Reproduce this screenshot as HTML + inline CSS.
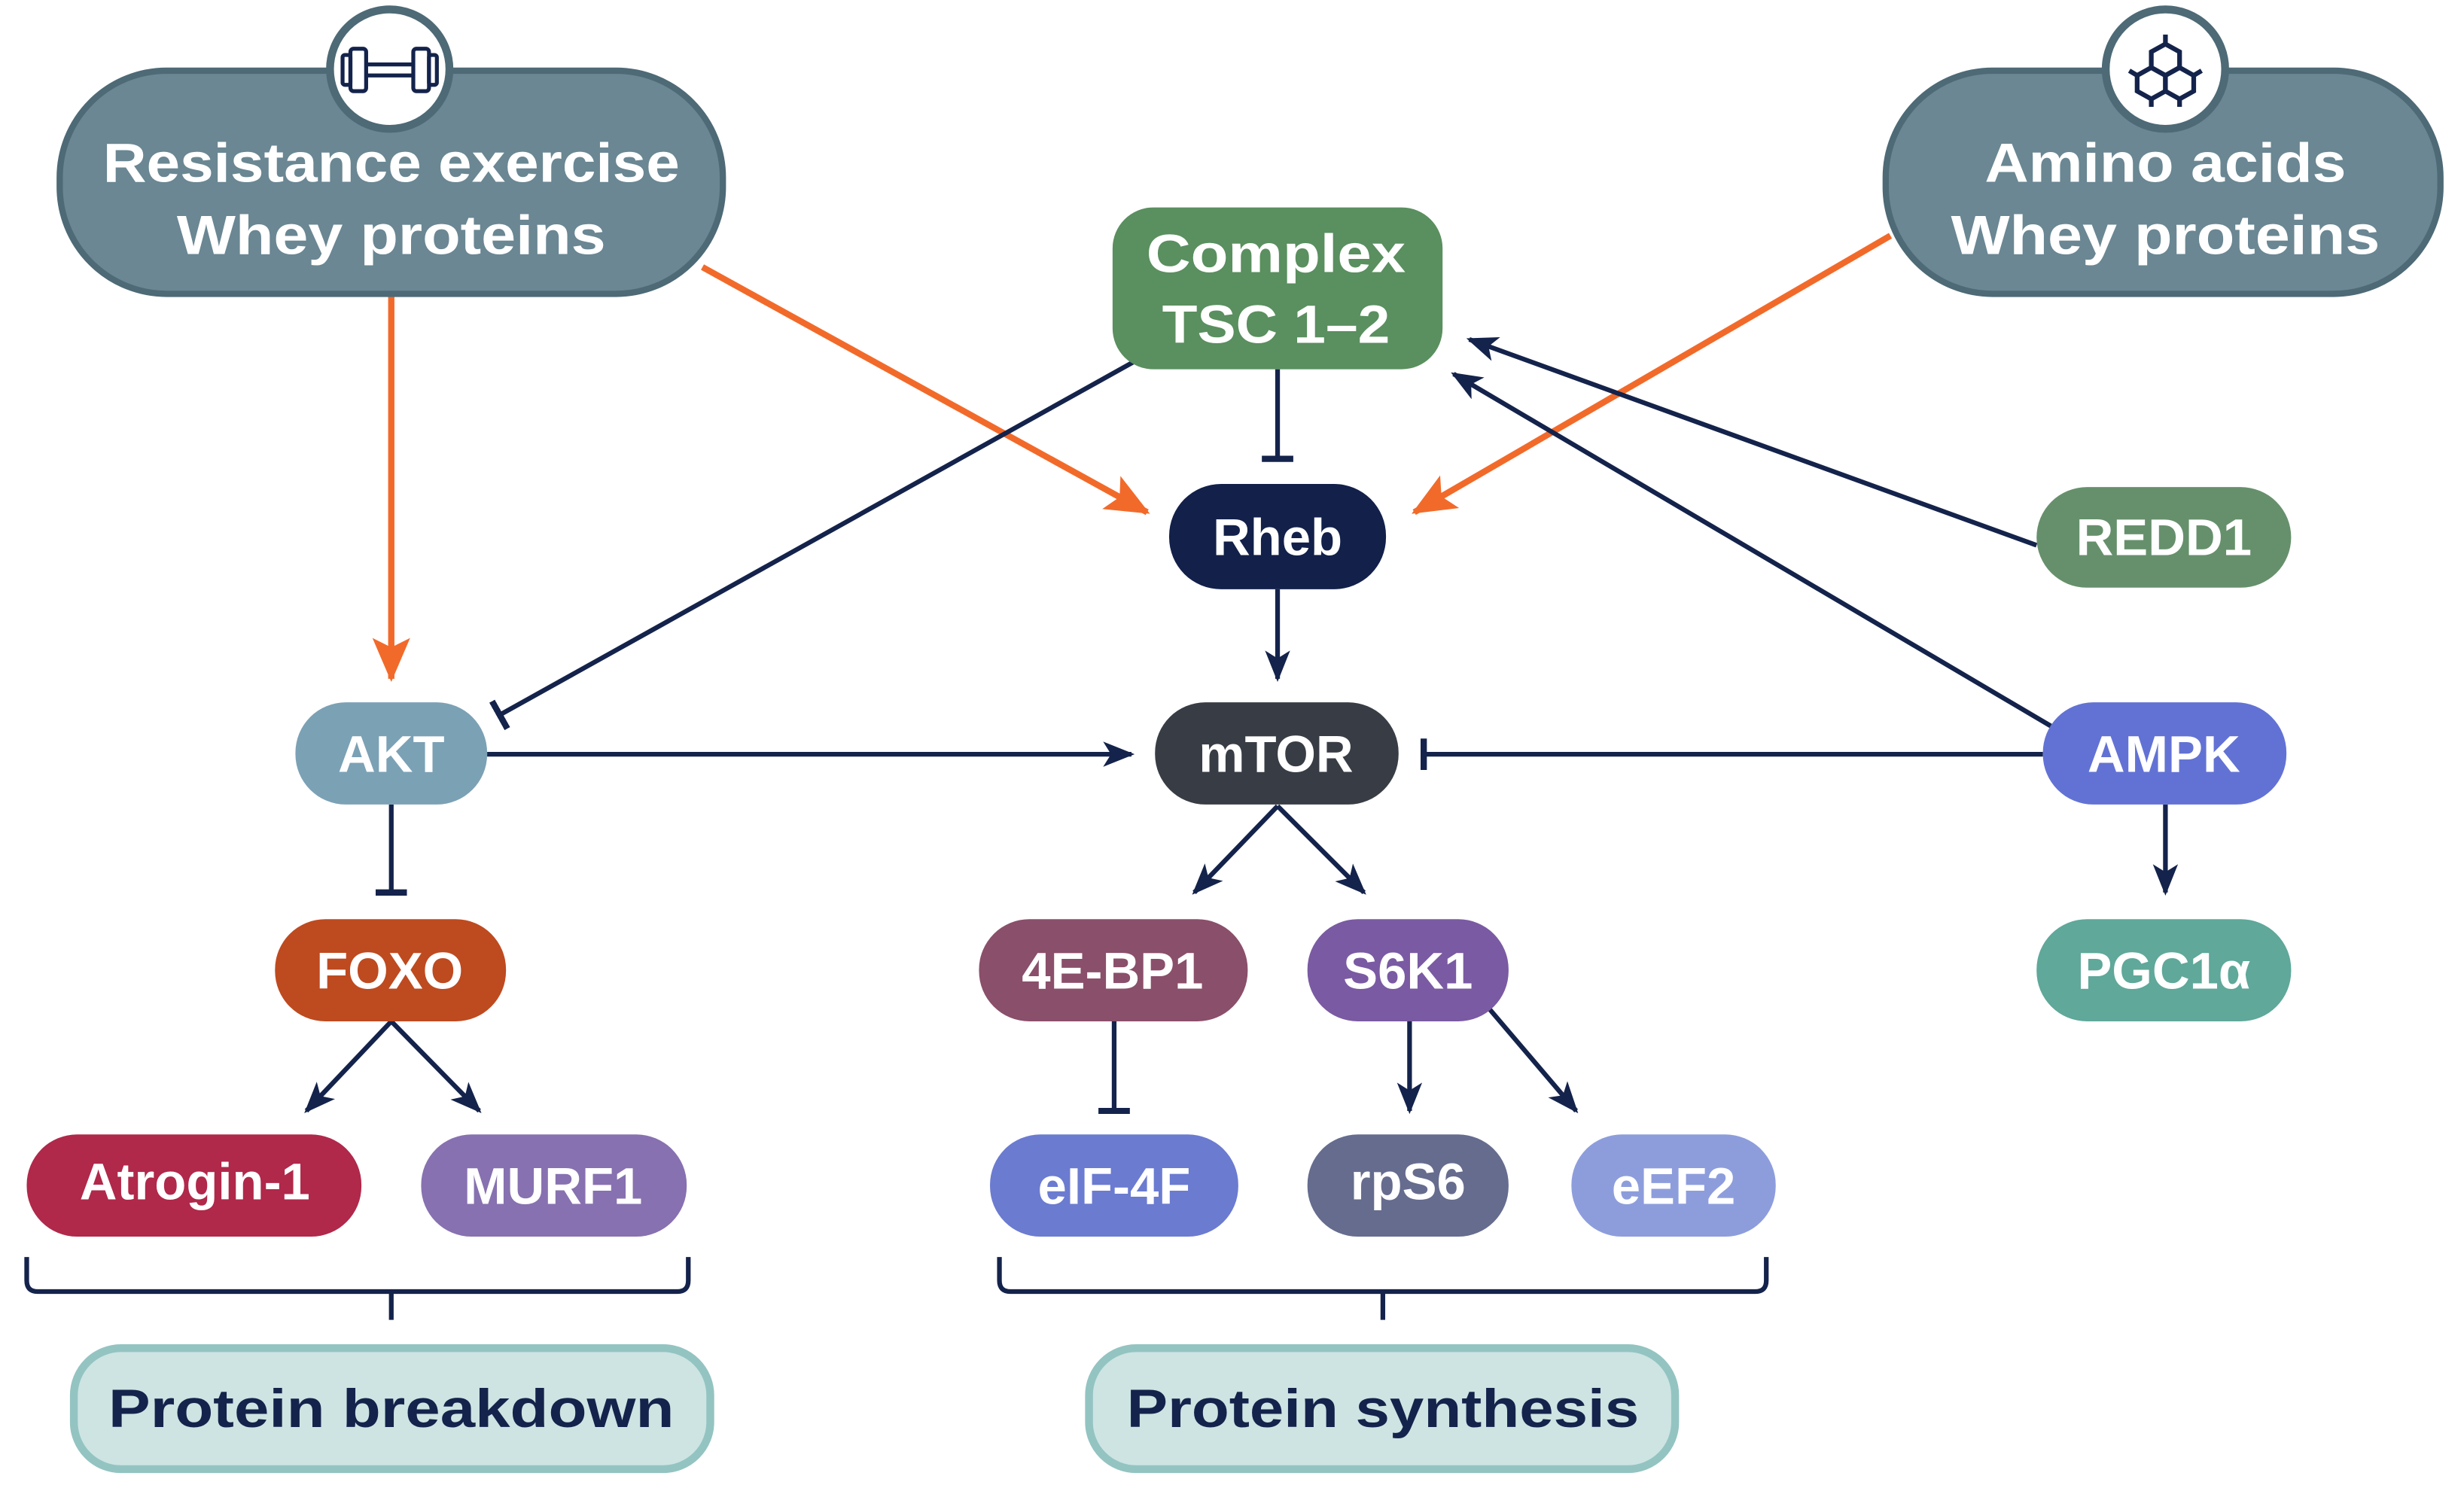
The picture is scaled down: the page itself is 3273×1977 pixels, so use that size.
<!DOCTYPE html>
<html><head><meta charset="utf-8"><style>html,body{margin:0;padding:0;background:#fff}svg{display:block}text{font-family:"Liberation Sans",sans-serif;font-weight:bold;text-anchor:middle;dominant-baseline:central;fill:#fff}</style></head>
<body>
<svg width="3273" height="1977" viewBox="0 0 1568 947" preserveAspectRatio="none" xmlns="http://www.w3.org/2000/svg">
<defs>
<marker id="an" viewBox="0 0 20 20" refX="18" refY="10" markerWidth="20" markerHeight="20" markerUnits="userSpaceOnUse" orient="auto"><path d="M0,2 L20,10 L0,18 L5,10 Z" fill="#14234b"/></marker>
<marker id="ao" viewBox="0 0 28 28" refX="26" refY="14" markerWidth="28" markerHeight="28" markerUnits="userSpaceOnUse" orient="auto"><path d="M0,2 L28,14 L0,26 L6,14 Z" fill="#f26a2a"/></marker>
<marker id="bar" viewBox="0 0 4 20" refX="2" refY="10" markerWidth="4" markerHeight="20" markerUnits="userSpaceOnUse" orient="auto"><rect x="0" y="0" width="4" height="20" fill="#14234b"/></marker>
</defs>
<g stroke="#f26a2a" stroke-width="4" fill="none">
<line x1="249" y1="187" x2="249" y2="432" marker-end="url(#ao)"/>
<line x1="447" y1="170" x2="730" y2="326" marker-end="url(#ao)"/>
<line x1="1203" y1="150" x2="900" y2="326" marker-end="url(#ao)"/>
</g>
<g stroke="#14234b" stroke-width="3" fill="none">
<line x1="722" y1="230" x2="318" y2="455" marker-end="url(#bar)"/>
<line x1="813" y1="235" x2="813" y2="292" marker-end="url(#bar)"/>
<line x1="813" y1="375" x2="813" y2="432" marker-end="url(#an)"/>
<line x1="310" y1="480" x2="720" y2="480" marker-end="url(#an)"/>
<line x1="1300" y1="480" x2="906" y2="480" marker-end="url(#bar)"/>
<line x1="1296" y1="347" x2="935" y2="216" marker-end="url(#an)"/>
<line x1="1305" y1="462" x2="925" y2="238" marker-end="url(#an)"/>
<line x1="813" y1="513" x2="760" y2="568" marker-end="url(#an)"/>
<line x1="813" y1="513" x2="868" y2="568" marker-end="url(#an)"/>
<line x1="249" y1="512" x2="249" y2="568" marker-end="url(#bar)"/>
<line x1="249" y1="650" x2="195" y2="707" marker-end="url(#an)"/>
<line x1="249" y1="650" x2="305" y2="707" marker-end="url(#an)"/>
<line x1="709" y1="650" x2="709" y2="707" marker-end="url(#bar)"/>
<line x1="897" y1="650" x2="897" y2="707" marker-end="url(#an)"/>
<line x1="946" y1="640" x2="1003" y2="707" marker-end="url(#an)"/>
<line x1="1378" y1="512" x2="1378" y2="568" marker-end="url(#an)"/>
<path d="M17,800 V815 Q17,822 24,822 H431 Q438,822 438,815 V800 M249,822 V840"/>
<path d="M636,800 V815 Q636,822 643,822 H1117 Q1124,822 1124,815 V800 M880,822 V840"/>
</g>
<!-- top boxes -->
<rect x="38" y="45" width="422" height="142" rx="68" fill="#6a8793" stroke="#4d6a76" stroke-width="4"/>
<circle cx="248" cy="44" r="38" fill="#fff" stroke="#4d6a76" stroke-width="5"/>
<g stroke="#14234b" stroke-width="2.5" fill="none"><rect x="223" y="31" width="10" height="27" rx="2"/><rect x="218" y="35" width="5" height="19" rx="1.5"/><rect x="263" y="31" width="10" height="27" rx="2"/><rect x="273" y="35" width="5" height="19" rx="1.5"/><line x1="233" y1="41" x2="263" y2="41"/><line x1="233" y1="48" x2="263" y2="48"/></g>
<text x="249" y="104" font-size="35" textLength="367" lengthAdjust="spacingAndGlyphs">Resistance exercise</text>
<text x="249" y="150" font-size="35" textLength="273" lengthAdjust="spacingAndGlyphs">Whey proteins</text>
<rect x="1200" y="45" width="353" height="142" rx="68" fill="#6a8793" stroke="#4d6a76" stroke-width="4"/>
<circle cx="1378" cy="44" r="38" fill="#fff" stroke="#4d6a76" stroke-width="5"/>
<g stroke="#14234b" stroke-width="3" fill="none"><polygon points="1378,28 1387,33 1387,43 1378,48 1369,43 1369,33"/><polygon points="1369,43 1378,48 1378,58 1369,63 1360,58 1360,48"/><polygon points="1387,43 1396,48 1396,58 1387,63 1378,58 1378,48"/><line x1="1378" y1="28" x2="1378" y2="22"/><line x1="1360" y1="48" x2="1355" y2="45"/><line x1="1396" y1="48" x2="1401" y2="45"/><line x1="1369" y1="63" x2="1369" y2="68"/><line x1="1387" y1="63" x2="1387" y2="68"/></g>
<text x="1378" y="104" font-size="35" textLength="230" lengthAdjust="spacingAndGlyphs">Amino acids</text>
<text x="1378" y="150" font-size="35" textLength="273" lengthAdjust="spacingAndGlyphs">Whey proteins</text>
<!-- nodes -->
<rect x="708" y="132" width="210" height="103" rx="26" fill="#5a8f5f"/>
<text x="812" y="162" font-size="34" textLength="165" lengthAdjust="spacingAndGlyphs">Complex</text>
<text x="812" y="207" font-size="34" textLength="145" lengthAdjust="spacingAndGlyphs">TSC 1–2</text>
<rect x="744" y="308" width="138" height="67" rx="33" fill="#12204a"/><text x="813" y="342" font-size="33">Rheb</text>
<rect x="1296" y="310" width="162" height="64" rx="32" fill="#66906c"/><text x="1377" y="342" font-size="33">REDD1</text>
<rect x="188" y="447" width="122" height="65" rx="32" fill="#7ba1b5"/><text x="249" y="480" font-size="33">AKT</text>
<rect x="735" y="447" width="155" height="65" rx="32" fill="#383d45"/><text x="812" y="480" font-size="33">mTOR</text>
<rect x="1300" y="447" width="155" height="65" rx="32" fill="#6272d4"/><text x="1377" y="480" font-size="33">AMPK</text>
<rect x="175" y="585" width="147" height="65" rx="32" fill="#be4a1f"/><text x="248" y="618" font-size="33">FOXO</text>
<rect x="623" y="585" width="171" height="65" rx="32" fill="#8a4f6a"/><text x="708" y="618" font-size="33">4E-BP1</text>
<rect x="832" y="585" width="128" height="65" rx="32" fill="#7a5aa2"/><text x="896" y="618" font-size="33">S6K1</text>
<rect x="1296" y="585" width="162" height="65" rx="32" fill="#5fa89a"/><text x="1377" y="618" font-size="33">PGC1α</text>
<rect x="17" y="722" width="213" height="65" rx="32" fill="#b0284a"/><text x="124" y="752" font-size="33">Atrogin-1</text>
<rect x="268" y="722" width="169" height="65" rx="32" fill="#8771b0"/><text x="352" y="755" font-size="33">MURF1</text>
<rect x="630" y="722" width="158" height="65" rx="32" fill="#6b7bd0"/><text x="709" y="755" font-size="33">eIF-4F</text>
<rect x="832" y="722" width="128" height="65" rx="32" fill="#656c8e"/><text x="896" y="752" font-size="33">rpS6</text>
<rect x="1000" y="722" width="130" height="65" rx="32" fill="#8d9ddc"/><text x="1065" y="755" font-size="33">eEF2</text>
<!-- outcome boxes -->
<rect x="47" y="858" width="405" height="77" rx="30" fill="#cde4e3" stroke="#93c4c1" stroke-width="5"/>
<text x="249" y="897" font-size="34" fill="#14234b" style="fill:#14234b" textLength="360" lengthAdjust="spacingAndGlyphs">Protein breakdown</text>
<rect x="693" y="858" width="373" height="77" rx="30" fill="#cde4e3" stroke="#93c4c1" stroke-width="5"/>
<text x="880" y="897" font-size="34" style="fill:#14234b" textLength="326" lengthAdjust="spacingAndGlyphs">Protein synthesis</text>
</svg>
</body></html>
